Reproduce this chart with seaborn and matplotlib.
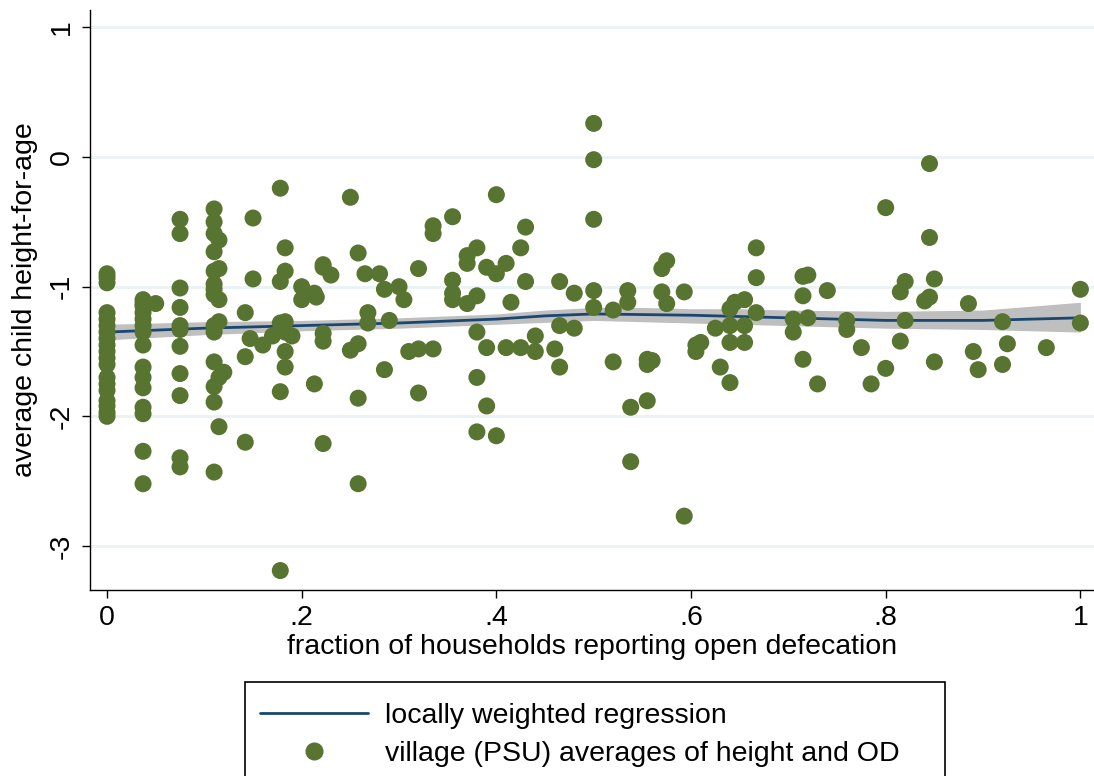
import matplotlib
matplotlib.use('Agg')
import matplotlib.pyplot as plt
import seaborn as sns
import pandas as pd
from matplotlib.patches import Rectangle
from matplotlib.lines import Line2D

# village (PSU) averages: open defecation fraction -> list of height-for-age values
villages = {
    0.0: [-0.9, -0.93, -0.97, -1.2, -1.25, -1.3, -1.35, -1.4, -1.45, -1.5, -1.55,
          -1.6, -1.7, -1.75, -1.8, -1.88, -1.92, -1.97, -2.0],
    0.037: [-1.1, -1.13, -1.15, -1.2, -1.25, -1.3, -1.35, -1.45, -1.62, -1.7,
            -1.78, -1.93, -1.98, -2.27, -2.52],
    0.05: [-1.13],
    0.075: [-0.48, -0.59, -1.01, -1.16, -1.3, -1.33, -1.46, -1.67, -1.84, -2.32, -2.39],
    0.11: [-0.4, -0.5, -0.59, -0.73, -0.88, -0.98, -1.02, -1.06, -1.3, -1.35,
           -1.58, -1.77, -1.89, -2.43],
    0.115: [-0.64, -0.86, -1.1, -1.27, -1.7, -2.08],
    0.12: [-1.66],
    0.142: [-1.2, -1.54, -2.2],
    0.147: [-1.4],
    0.15: [-0.47, -0.94],
    0.16: [-1.45],
    0.17: [-1.38],
    0.178: [-0.24, -0.96, -1.28, -1.81, -3.19],
    0.183: [-0.7, -0.88, -1.27, -1.35, -1.5, -1.62],
    0.19: [-1.38],
    0.2: [-1.0, -1.1],
    0.213: [-1.05, -1.75],
    0.215: [-1.08],
    0.222: [-0.83, -0.85, -1.36, -1.42, -2.21],
    0.23: [-0.91],
    0.25: [-0.31, -1.49],
    0.258: [-0.74, -1.44, -1.86, -2.52],
    0.265: [-0.9],
    0.268: [-1.2, -1.28],
    0.28: [-0.9],
    0.285: [-1.02, -1.64],
    0.29: [-1.26],
    0.3: [-1.0],
    0.305: [-1.1],
    0.31: [-1.5],
    0.32: [-0.86, -1.48, -1.82],
    0.335: [-0.53, -0.59, -1.48],
    0.355: [-0.46, -0.95, -1.05, -1.1],
    0.37: [-0.76, -0.82, -1.13],
    0.38: [-0.7, -1.07, -1.35, -1.7, -2.12],
    0.39: [-0.85, -1.47, -1.92],
    0.4: [-0.29, -0.9, -2.15],
    0.41: [-0.82, -1.47],
    0.415: [-1.12],
    0.425: [-0.7, -1.47],
    0.43: [-0.54, -0.96],
    0.44: [-1.38, -1.5],
    0.46: [-1.48],
    0.465: [-0.96, -1.3, -1.62],
    0.48: [-1.05, -1.32],
    0.5: [0.26, -0.02, -0.48, -1.03, -1.16],
    0.52: [-1.18, -1.58],
    0.535: [-1.03, -1.12],
    0.538: [-1.93, -2.35],
    0.555: [-1.56, -1.6, -1.88],
    0.56: [-1.57],
    0.57: [-0.86, -1.04],
    0.575: [-0.8, -1.13],
    0.593: [-1.04, -2.77],
    0.605: [-1.45, -1.5],
    0.61: [-1.43],
    0.625: [-1.32],
    0.63: [-1.62],
    0.64: [-1.17, -1.3, -1.43, -1.74],
    0.645: [-1.12],
    0.655: [-1.1, -1.3, -1.43],
    0.667: [-0.7, -0.93, -1.2],
    0.705: [-1.25, -1.35],
    0.715: [-0.92, -1.07, -1.56],
    0.72: [-0.91, -1.24],
    0.73: [-1.75],
    0.74: [-1.03],
    0.76: [-1.26, -1.33],
    0.775: [-1.47],
    0.785: [-1.75],
    0.8: [-0.39, -1.63],
    0.815: [-1.04, -1.42],
    0.82: [-0.96, -1.26],
    0.84: [-1.11],
    0.845: [-0.05, -0.62, -1.08],
    0.85: [-0.94, -1.58],
    0.885: [-1.13],
    0.89: [-1.5],
    0.895: [-1.64],
    0.92: [-1.27, -1.6],
    0.925: [-1.44],
    0.965: [-1.47],
    1.0: [-1.02, -1.28],
}

# locally weighted regression line and its band
fit_x = [0.0, 0.1, 0.2, 0.3, 0.4, 0.45, 0.5, 0.55, 0.6, 0.65, 0.7, 0.8, 0.9, 1.0]
fit_y = [-1.35, -1.32, -1.30, -1.28, -1.25, -1.225, -1.21, -1.215, -1.22, -1.23, -1.24, -1.26, -1.26, -1.24]
fit_lo = [-1.41, -1.37, -1.34, -1.32, -1.29, -1.275, -1.26, -1.27, -1.28, -1.29, -1.30, -1.32, -1.33, -1.35]
fit_hi = [-1.29, -1.27, -1.26, -1.24, -1.21, -1.18, -1.16, -1.16, -1.17, -1.17, -1.18, -1.19, -1.18, -1.12]

rows = [(x, y) for x, ys in villages.items() for y in ys]
df = pd.DataFrame(rows, columns=['od', 'haz'])
fit = pd.DataFrame({'od': fit_x, 'haz': fit_y})

sns.set_style('white')
plt.rcParams['font.family'] = ['Liberation Sans', 'DejaVu Sans']
plt.rcParams['text.color'] = 'black'
plt.rcParams['axes.labelcolor'] = 'black'
plt.rcParams['xtick.color'] = 'black'
plt.rcParams['ytick.color'] = 'black'

fs = 20.5
fig = plt.figure(figsize=(10.94, 7.76), dpi=100)
ax = fig.add_axes([90 / 1094, 1 - 590 / 776, 1004 / 1094, 580 / 776])

green = '#577430'
navy = '#1A476F'

for yv in [1, 0, -1, -2, -3]:
    ax.axhline(yv, color='#EAF2F3', lw=2, zorder=0)

ax.fill_between(fit_x, fit_lo, fit_hi, color='#BFBFBF', lw=0, zorder=1)
sns.lineplot(data=fit, x='od', y='haz', color=navy, lw=2, ax=ax, zorder=2)
sns.scatterplot(data=df, x='od', y='haz', color=green, s=150, edgecolor='none',
                ax=ax, zorder=3)

ax.set_xlim(-0.0175, 1.014)
ax.set_ylim(-3.34, 1.135)
ax.set_xticks([0, 0.2, 0.4, 0.6, 0.8, 1])
ax.set_xticklabels(['0', '.2', '.4', '.6', '.8', '1'])
ax.set_yticks([1, 0, -1, -2, -3])
ax.set_yticklabels(['1', '0', '-1', '-2', '-3'], rotation=90, va='center')
ax.tick_params(axis='both', labelsize=fs, length=6, width=1, color='black',
               direction='out', left=True, bottom=True, pad=5)
ax.set_xlabel('fraction of households reporting open defecation', fontsize=fs, labelpad=2)
ax.set_ylabel('average child height-for-age', fontsize=fs, labelpad=8)
sns.despine(ax=ax)
for s in ['left', 'bottom']:
    ax.spines[s].set_color('black')
    ax.spines[s].set_linewidth(1)

# legend box below the plot
fig.patches.append(Rectangle((245 / 1094, -0.02), 700 / 1094, (776 - 682) / 776 + 0.02,
                             transform=fig.transFigure, fill=False, ec='black', lw=1.2))
handles = [Line2D([], [], color=navy, lw=2),
           Line2D([], [], color=green, marker='o', ls='none', markersize=12)]
fig.legend(handles, ['locally weighted regression',
                     'village (PSU) averages of height and OD'],
           loc='upper left', bbox_to_anchor=(234 / 1094, 1 - 677 / 776),
           frameon=False, fontsize=fs, handlelength=3.8, handletextpad=0.6,
           labelspacing=0.42)

fig.savefig('out.png', dpi=100)
